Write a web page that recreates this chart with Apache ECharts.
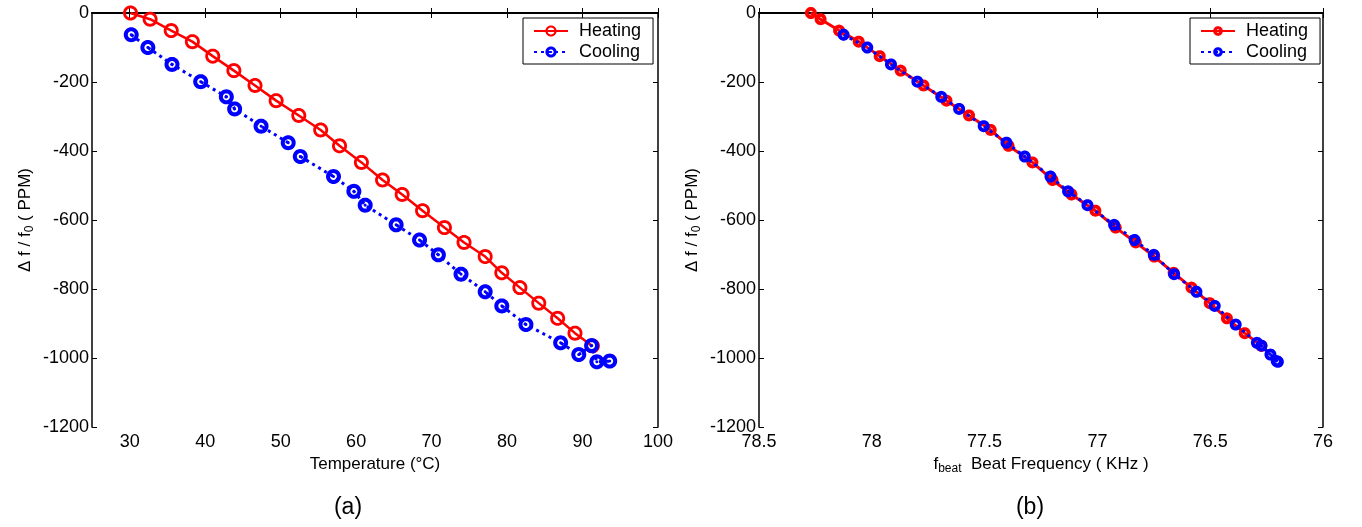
<!DOCTYPE html>
<html>
<head>
<meta charset="utf-8">
<script src="https://cdn.jsdelivr.net/npm/echarts@6/dist/echarts.min.js"></script>
<style>
html,body{margin:0;padding:0;background:#fff;}
#chart{width:1362px;height:527px;}
</style>
</head>
<body>
<div id="chart"></div>
<script>
// ---- data ----
const tempHeating = [30.1,32.7,35.5,38.3,41.0,43.8,46.6,49.4,52.4,55.3,57.8,60.7,63.5,66.1,68.8,71.7,74.3,77.1,79.3,81.7,84.2,86.7,89.0,91.3];
const ppmHeating  = [0,-18,-51,-83,-125,-167,-210,-254,-297,-339,-385,-433,-484,-526,-573,-622,-665,-706,-753,-796,-841,-885,-928,-965];
const tempCooling = [30.2,32.4,35.6,39.4,42.8,43.9,47.4,51.0,52.6,57.0,59.7,61.2,65.3,68.4,70.9,73.9,77.1,79.3,82.5,87.1,89.5,91.2,91.9,93.6];
const ppmCooling  = [-63,-100,-149,-199,-243,-278,-328,-376,-416,-474,-517,-557,-614,-658,-701,-757,-808,-849,-903,-956,-990,-964,-1011,-1009];
const fbeatHeating = [78.270,78.227,78.145,78.058,77.965,77.872,77.771,77.669,77.569,77.473,77.394,77.288,77.199,77.115,77.009,76.919,76.830,76.748,76.662,76.583,76.502,76.426,76.347,76.273];
const fbeatCooling = [78.125,78.020,77.915,77.798,77.692,77.613,77.504,77.403,77.322,77.208,77.130,77.044,76.926,76.835,76.750,76.660,76.561,76.480,76.387,76.293,76.233,76.273,76.200,76.205];
const tempTicks = [30,40,50,60,70,80,90,100];
const seriesNames = ['Heating','Cooling'];

// ---- helpers ----
const zip = (a,b) => a.map((v,i)=>[v,b[i]]);
const FONT = 'Liberation Sans, Arial, sans-serif';
const RED = '#ff0000', BLUE = '#0000ff';
// symbol shape: polygon circle outline (outer clockwise, inner counter-clockwise, dot clockwise)
function circlePoly(r, cw){
  const n = 36, pts = [];
  for (let k = 0; k < n; k++){
    const a = (cw ? 1 : -1) * 2 * Math.PI * k / n;
    pts.push((50 + r*Math.cos(a)).toFixed(2) + ',' + (50 + r*Math.sin(a)).toFixed(2));
  }
  return 'M' + pts.join(' L') + ' Z ';
}
function ring(inner, dot){
  let p = 'path://' + circlePoly(50, true) + circlePoly(inner, false);
  if (dot) p += circlePoly(dot, true);
  return p;
}
const axisLine = {show:true, lineStyle:{color:'#000', width:1.5}};
const tick = {show:true, inside:true, length:5, lineStyle:{color:'#000', width:1}};
const labelStyle = {color:'#000', fontFamily:FONT, fontSize:18};
const nameRich = {
  a:{fontFamily:FONT, fontSize:17, color:'#000'},
  s:{fontFamily:FONT, fontSize:12, color:'#000', padding:[9,0,0,0]}
};

const grids = [
  {left:92, top:13, width:566, height:414},
  {left:759, top:13, width:564, height:414}
];

function yAxes(gi){
  return [
    {type:'value', gridIndex:gi, min:-1200, max:0, interval:200, position:'left',
     axisLine:axisLine, axisTick:tick, splitLine:{show:false},
     axisLabel:Object.assign({margin:3, formatter:v=>String(v)}, labelStyle),
     name:'{a|Δ f / f}{s|0}{a| ( PPM)}', nameLocation:'middle', nameRotate:90, nameGap:56,
     nameTextStyle:{rich:nameRich}},
    {type:'value', gridIndex:gi, min:-1200, max:0, interval:200, position:'right',
     axisLine:axisLine, axisTick:tick, splitLine:{show:false}, axisLabel:{show:false}}
  ];
}

const legendBase = {
  orient:'vertical', top:18,
  itemWidth:34, itemGap:3, padding:[4,12,3,10],
  borderColor:'#000', borderWidth:1, backgroundColor:'#fff',
  textStyle:{fontFamily:FONT, fontSize:18, lineHeight:15, color:'#000', padding:[0,0,0,6]}
};

const option = {
  backgroundColor:'#fff',
  animation:false,
  grid: grids,
  xAxis: [
    {type:'value', gridIndex:0, min:25, max:100, position:'bottom',
     axisLine:{show:true, lineStyle:{color:'#000', width:2}},
     axisTick:Object.assign({customValues:tempTicks}, tick),
     axisLabel:Object.assign({customValues:tempTicks, margin:6}, labelStyle),
     splitLine:{show:false},
     name:'Temperature (°C)', nameLocation:'middle', nameGap:24,
     nameTextStyle:{fontFamily:FONT, fontSize:17, color:'#000'}},
    {type:'value', gridIndex:0, min:25, max:100, position:'top',
     axisLine:axisLine, axisTick:Object.assign({customValues:tempTicks}, tick),
     axisLabel:{show:false}, splitLine:{show:false}},
    {type:'value', gridIndex:1, min:76, max:78.5, interval:0.5, inverse:true, position:'bottom',
     axisLine:{show:true, lineStyle:{color:'#000', width:2}}, axisTick:tick,
     axisLabel:Object.assign({margin:6}, labelStyle), splitLine:{show:false},
     name:'{a|f}{s|beat}{a|  Beat Frequency ( KHz )}', nameLocation:'middle', nameGap:24,
     nameTextStyle:{rich:nameRich}},
    {type:'value', gridIndex:1, min:76, max:78.5, interval:0.5, inverse:true, position:'top',
     axisLine:axisLine, axisTick:tick, axisLabel:{show:false}, splitLine:{show:false}}
  ],
  yAxis: yAxes(0).concat(yAxes(1)),
  legend: [
    Object.assign({data:['Heating','Cooling'], left:523, itemHeight:14}, legendBase),
    Object.assign({data:['Heating ','Cooling '], left:1190, itemHeight:12, formatter:n=>n.trim()}, legendBase)
  ],
  series: [
    {name:seriesNames[0], type:'line', xAxisIndex:0, yAxisIndex:0, data:zip(tempHeating, ppmHeating),
     symbol:ring(31), symbolSize:15, itemStyle:{color:RED, borderWidth:0},
     lineStyle:{color:RED, width:2.5}, z:2},
    {name:seriesNames[1], type:'line', xAxisIndex:0, yAxisIndex:0, data:zip(tempCooling, ppmCooling),
     symbol:ring(23, 10), symbolSize:15, itemStyle:{color:BLUE, borderWidth:0},
     lineStyle:{color:BLUE, width:3, type:[3,4]}, z:3},
    {name:seriesNames[0]+' ', type:'line', xAxisIndex:2, yAxisIndex:2, data:zip(fbeatHeating, ppmHeating),
     symbol:ring(18), symbolSize:12, itemStyle:{color:RED, borderWidth:0},
     lineStyle:{color:RED, width:3}, z:2},
    {name:seriesNames[1]+' ', type:'line', xAxisIndex:2, yAxisIndex:2, data:zip(fbeatCooling, ppmCooling),
     symbol:ring(18), symbolSize:12, itemStyle:{color:BLUE, borderWidth:0},
     lineStyle:{color:BLUE, width:3, type:[3,4]}, z:3}
  ],
  graphic: [
    {type:'text', x:348, y:508, style:{text:'(a)', fontFamily:FONT, fontSize:23, fill:'#000', align:'center', verticalAlign:'middle'}},
    {type:'text', x:1030, y:508, style:{text:'(b)', fontFamily:FONT, fontSize:23, fill:'#000', align:'center', verticalAlign:'middle'}}
  ]
};

const chart = echarts.init(document.getElementById('chart'), null, {renderer:'canvas'});
chart.setOption(option);
</script>
</body>
</html>
